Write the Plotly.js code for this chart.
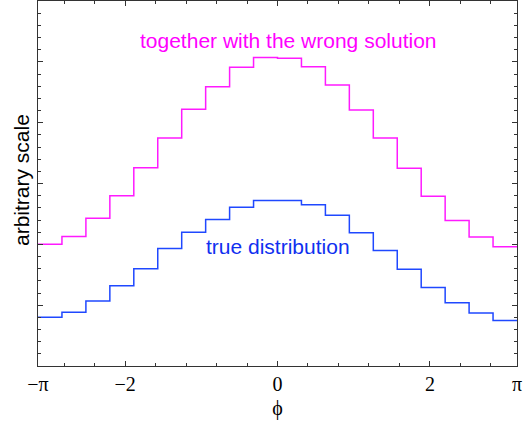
<!DOCTYPE html>
<html>
<head>
<meta charset="utf-8">
<script src="https://cdn.plot.ly/plotly-3.0.1.min.js"></script>
<style>
  html, body { margin: 0; padding: 0; background: #fff; }
  #plot { width: 524px; height: 422px; }
</style>
</head>
<body>
<div id="plot"></div>
<script>
// phi histogram, 20 bins from -pi to pi
var nbins = 20;
var phi_min = -Math.PI;
var phi_max = Math.PI;

var wrong_solution = [2.00, 2.13, 2.43, 2.80, 3.26, 3.75, 4.22, 4.59, 4.91, 5.07,
                      5.06, 4.92, 4.62, 4.21, 3.75, 3.25, 2.79, 2.39, 2.12, 1.96];
var true_dist = [0.80, 0.885, 1.07, 1.32, 1.60, 1.93, 2.20, 2.41, 2.61, 2.72,
                 2.72, 2.65, 2.48, 2.19, 1.90, 1.59, 1.29, 1.04, 0.87, 0.75];

var xtick_vals = [-Math.PI, -2, 0, 2, Math.PI];
var xtick_text = ['\u2212\u03c0', '\u22122', '0', '2', '\u03c0'];

// step outline: bin edges, last value repeated to close the final bin
function steps(vals) {
  var w = (phi_max - phi_min) / nbins;
  var x = [], y = [];
  for (var i = 0; i < vals.length; i++) {
    x.push(phi_min + i * w);
    y.push(vals[i]);
  }
  x.push(phi_max);
  y.push(vals[vals.length - 1]);
  return {x: x, y: y};
}

var s1 = steps(wrong_solution);
var s2 = steps(true_dist);

var trace1 = {
  x: s1.x, y: s1.y,
  type: 'scatter', mode: 'lines',
  line: {shape: 'hv', color: '#ff1aff', width: 1.5},
  hoverinfo: 'none',
};
var trace2 = {
  x: s2.x, y: s2.y,
  type: 'scatter', mode: 'lines',
  line: {shape: 'hv', color: '#1f48ff', width: 1.5},
  hoverinfo: 'none',
};

var layout = {
  width: 524, height: 422,
  margin: {l: 38, r: 7, t: 1, b: 56},
  paper_bgcolor: '#fff', plot_bgcolor: '#fff',
  showlegend: false,
  xaxis: {
    range: [phi_min, phi_max],
    tickmode: 'array', tickvals: xtick_vals, ticktext: xtick_text,
    ticks: 'inside', ticklen: 5, tickcolor: '#333', tickwidth: 1,
    minor: {tickmode: 'linear', tick0: 0, dtick: 0.4, ticks: 'inside', ticklen: 3, tickcolor: '#333'},
    showline: true, linecolor: '#333', linewidth: 1, mirror: 'ticks',
    showgrid: false, zeroline: false,
    tickfont: {family: 'Liberation Serif, Times New Roman, serif', size: 20, color: '#000'},
    title: {text: '\u03d5', font: {family: 'Liberation Serif, Times New Roman, serif', size: 20, color: '#000'}, standoff: 6},
    fixedrange: true,
  },
  yaxis: {
    range: [0, 6],
    dtick: 1, showticklabels: false,
    ticks: 'inside', ticklen: 5, tickcolor: '#333', tickwidth: 1,
    minor: {dtick: 0.2, ticks: 'inside', ticklen: 3, tickcolor: '#333'},
    showline: true, linecolor: '#333', linewidth: 1, mirror: 'ticks',
    showgrid: false, zeroline: false,
    fixedrange: true,
  },
  annotations: [
    {
      text: 'together with the wrong solution',
      xref: 'x', yref: 'y', x: 0.14, y: 5.35,
      xanchor: 'center', yanchor: 'middle',
      showarrow: false,
      font: {family: 'Liberation Sans, Arial, sans-serif', size: 21, color: '#ff00ff'},
    },
    {
      text: 'true distribution',
      xref: 'x', yref: 'y', x: 0.0, y: 1.96,
      xanchor: 'center', yanchor: 'middle',
      showarrow: false,
      font: {family: 'Liberation Sans, Arial, sans-serif', size: 21, color: '#1030f0'},
    },
    {
      text: 'arbitrary scale',
      xref: 'paper', yref: 'paper', x: -0.033, y: 0.51,
      xanchor: 'center', yanchor: 'middle',
      textangle: -90, showarrow: false,
      font: {family: 'Liberation Sans, Arial, sans-serif', size: 21, color: '#000'},
    },
  ],
};

Plotly.newPlot('plot', [trace1, trace2], layout, {staticPlot: true});
</script>
</body>
</html>
